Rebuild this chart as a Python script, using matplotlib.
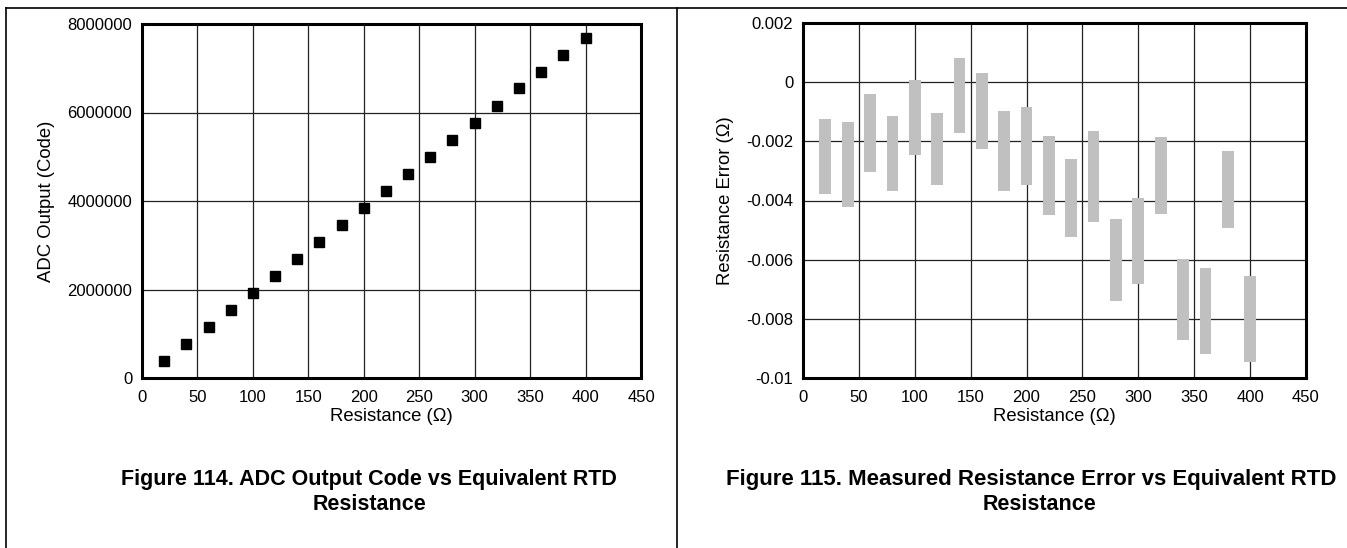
import numpy as np
import matplotlib
matplotlib.use('Agg')
import matplotlib.pyplot as plt
from matplotlib.lines import Line2D

plt.rcParams['font.family'] = ['Liberation Sans', 'DejaVu Sans']

# Figure 114 data: ADC output code vs resistance
resistance = [20, 40, 60, 80, 100, 120, 140, 160, 180, 200,
              220, 240, 260, 280, 300, 320, 340, 360, 380, 400]
adc_code = [379000, 774000, 1153000, 1540000, 1920000, 2300000, 2685000, 3064000,
            3450000, 3838000, 4217000, 4604000, 4990000, 5370000, 5757000, 6144000,
            6547000, 6910000, 7290000, 7676000]

# Figure 115 data: measured resistance error range (top / bottom of each bar)
err_top = [-0.00126, -0.00135, -0.00040, -0.00113, 0.00006, -0.00104, 0.00082, 0.00030,
           -0.00098, -0.00083, -0.00182, -0.00260, -0.00166, -0.00463, -0.00393, -0.00187,
           -0.00597, -0.00628, -0.00233, -0.00655]
err_bottom = [-0.00379, -0.00423, -0.00303, -0.00367, -0.00247, -0.00348, -0.00171, -0.00227,
              -0.00368, -0.00348, -0.00448, -0.00522, -0.00473, -0.00741, -0.00682, -0.00447,
              -0.00873, -0.00919, -0.00493, -0.00947]

x_ticks = [0, 50, 100, 150, 200, 250, 300, 350, 400, 450]
adc_ticks = [0, 2000000, 4000000, 6000000, 8000000]
err_ticks = [-0.01, -0.008, -0.006, -0.004, -0.002, 0, 0.002]
err_tick_labels = ['-0.01', '-0.008', '-0.006', '-0.004', '-0.002', '0', '0.002']

W, H = 1347, 548
fig = plt.figure(figsize=(W / 100, H / 100), dpi=100)


def style_axes(ax):
    ax.set_xlim(0, 450)
    ax.set_xticks(x_ticks)
    ax.grid(True, color='#222222', linewidth=0.9)
    ax.set_axisbelow(True)
    for s in ax.spines.values():
        s.set_linewidth(2.2)
        s.set_color('black')
    ax.tick_params(length=0, labelsize=12, pad=7)
    ax.tick_params(axis='x', pad=9)
    ax.set_xlabel('Resistance (\u03a9)', fontsize=13.3, labelpad=2)


ax1 = fig.add_axes([142 / W, 1 - 378 / H, 499 / W, 354 / H])
ax1.plot(resistance, adc_code, 's', color='black', markersize=7, zorder=3)
ax1.set_ylim(0, 8000000)
ax1.set_yticks(adc_ticks)
ax1.set_yticklabels([str(v) for v in adc_ticks])
style_axes(ax1)
ax1.set_ylabel('ADC Output (Code)', fontsize=13.3, labelpad=9)

ax2 = fig.add_axes([803 / W, 1 - 378 / H, 503 / W, 355 / H])
heights = np.array(err_top) - np.array(err_bottom)
ax2.bar(resistance, heights, bottom=err_bottom, width=10.5, color='#c0c0c0', zorder=3)
ax2.set_ylim(-0.01, 0.002)
ax2.set_yticks(err_ticks)
ax2.set_yticklabels(err_tick_labels)
style_axes(ax2)
ax2.set_ylabel('Resistance Error (\u03a9)', fontsize=13.3, labelpad=9)

# captions
cap_kw = dict(ha='center', va='center', fontsize=15.5, fontweight='bold')
fig.text(369 / W, 1 - 479 / H, 'Figure 114. ADC Output Code vs Equivalent RTD', **cap_kw)
fig.text(369 / W, 1 - 504 / H, 'Resistance', **cap_kw)
fig.text(1031 / W, 1 - 479 / H, 'Figure 115. Measured Resistance Error vs Equivalent RTD',
         ha='center', va='center', fontsize=16, fontweight='bold')
fig.text(1040 / W, 1 - 504 / H, 'Resistance', **cap_kw)

# page frame lines
fig.add_artist(Line2D([6 / W, 6 / W], [0, 1 - 8 / H], color='black', lw=1.2))
fig.add_artist(Line2D([6 / W, 1], [1 - 8 / H, 1 - 8 / H], color='black', lw=1.2))
fig.add_artist(Line2D([677 / W, 677 / W], [0, 1 - 8 / H], color='black', lw=1.2))

fig.savefig('out.png', dpi=100)
